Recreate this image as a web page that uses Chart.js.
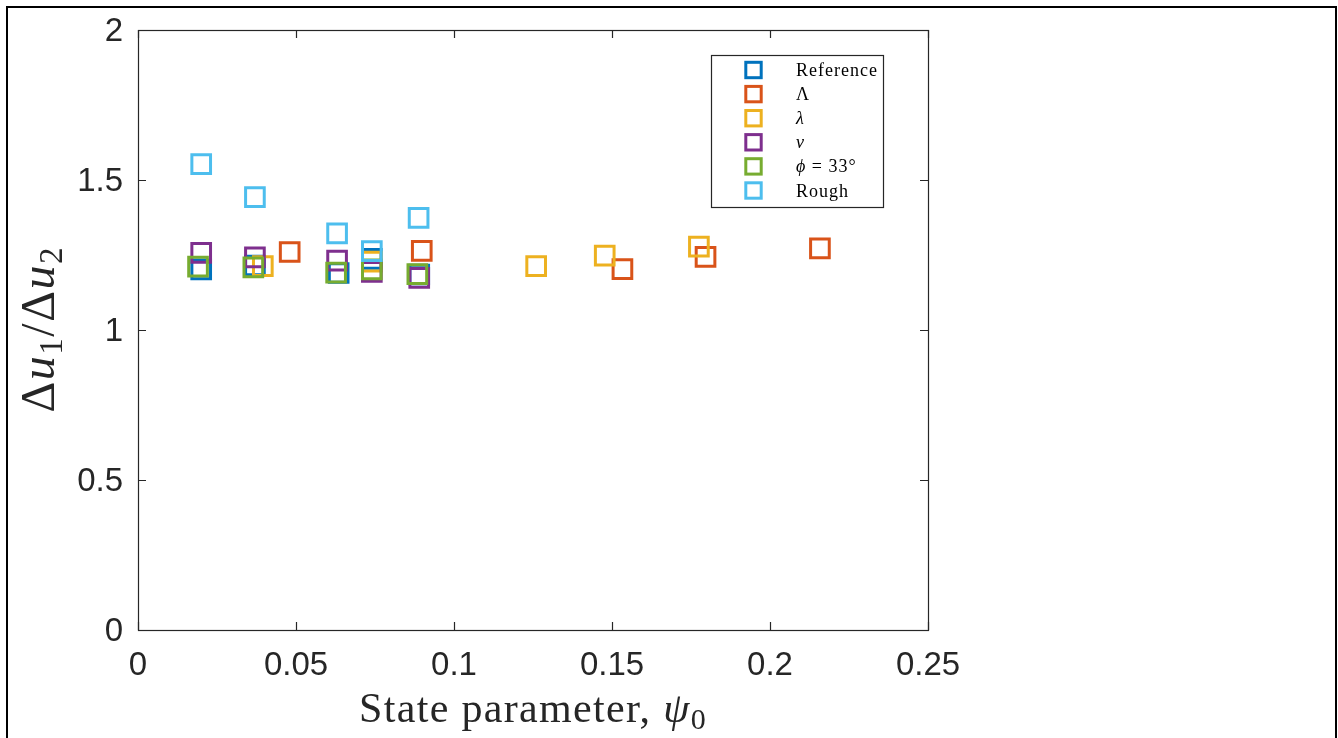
<!DOCTYPE html>
<html>
<head>
<meta charset="utf-8">
<script src="https://cdn.jsdelivr.net/npm/chart.js@4/dist/chart.umd.min.js"></script>
<style>
html,body{margin:0;padding:0;background:#ffffff;}
#wrap{width:1338px;height:738px;position:relative;}
canvas{display:block;}
</style>
</head>
<body>
<div id="wrap"><canvas id="c" width="1338" height="738"></canvas></div>
<script>
// ---- data ----
const seriesNames  = ['Reference', 'Λ', 'λ', 'ν', 'ϕ = 33°', 'Rough'];
const seriesColors = ['#0072BD', '#D95319', '#EDB120', '#7E2F8E', '#77AC30', '#4DBEEE'];

const referenceX = [0.020, 0.037, 0.0635, 0.074, 0.089];
const referenceY = [1.202, 1.215, 1.190, 1.237, 1.185];

const lambdaUpperX = [0.048, 0.0898, 0.1533, 0.1796, 0.2158];
const lambdaUpperY = [1.260, 1.264, 1.203, 1.244, 1.272];

const lambdaLowerX = [0.0395, 0.074, 0.126, 0.1477, 0.1775];
const lambdaLowerY = [1.213, 1.228, 1.213, 1.248, 1.278];

const nuX = [0.020, 0.037, 0.063, 0.074, 0.089];
const nuY = [1.257, 1.242, 1.231, 1.194, 1.174];

const phiX = [0.019, 0.0365, 0.0627, 0.074, 0.0884];
const phiY = [1.211, 1.209, 1.191, 1.202, 1.186];

const roughX = [0.020, 0.037, 0.063, 0.074, 0.0888];
const roughY = [1.553, 1.443, 1.322, 1.263, 1.374];

const xTickLabels = ['0', '0.05', '0.1', '0.15', '0.2', '0.25'];
const yTickLabels = ['0', '0.5', '1', '1.5', '2'];

const xTitleText = 'State parameter, ψ0';
const yTitleText = 'Δu1/Δu2';

// ---- build datasets ----
const seriesX = [referenceX, lambdaUpperX, lambdaLowerX, nuX, phiX, roughX];
const seriesY = [referenceY, lambdaUpperY, lambdaLowerY, nuY, phiY, roughY];

const datasets = seriesNames.map((name, i) => ({
  label: name,
  data: seriesX[i].map((x, j) => ({ x: x, y: seriesY[i][j] })),
  showLine: false,
  pointStyle: 'rect',
  pointRadius: 13.2,
  pointHoverRadius: 13.2,
  borderWidth: 3,
  pointBorderWidth: 3,
  borderColor: seriesColors[i],
  backgroundColor: 'rgba(0,0,0,0)',
  order: seriesNames.length - i   // later series drawn on top, like MATLAB
}));

const AXIS_COLOR = '#262626';
const SERIF = '"Liberation Serif", "DejaVu Serif", serif';

// draw a run of text segments [text, font, dy] starting at (0,0) baseline
function drawRuns(ctx, runs, spacing) {
  let x = 0;
  runs.forEach(r => {
    ctx.font = r[1];
    ctx.fillText(r[0], x, r[2]);
    x += ctx.measureText(r[0]).width + spacing;
  });
  return x;
}
function runsWidth(ctx, runs, spacing) {
  let w = 0;
  runs.forEach(r => { ctx.font = r[1]; w += ctx.measureText(r[0]).width + spacing; });
  return w - spacing;
}

// box, inner ticks, titles, legend and outer frame
const decorations = {
  id: 'decorations',
  beforeDraw(chart) {
    const ctx = chart.ctx;
    ctx.save();
    ctx.fillStyle = '#ffffff';
    ctx.fillRect(0, 0, chart.width, chart.height);
    ctx.restore();
  },
  afterDraw(chart) {
    const ctx = chart.ctx;
    const a = chart.chartArea;
    const xs = chart.scales.x, ys = chart.scales.y;
    ctx.save();
    // axes box
    ctx.strokeStyle = AXIS_COLOR;
    ctx.lineWidth = 1.2;
    ctx.strokeRect(Math.round(a.left) + 0.5, Math.round(a.top) + 0.5,
                   Math.round(a.right - a.left), Math.round(a.bottom - a.top));
    // inner tick marks on all four sides
    const tl = 8;
    ctx.beginPath();
    xs.ticks.forEach(t => {
      const px = Math.round(xs.getPixelForValue(t.value)) + 0.5;
      ctx.moveTo(px, a.bottom); ctx.lineTo(px, a.bottom - tl);
      ctx.moveTo(px, a.top); ctx.lineTo(px, a.top + tl);
    });
    ys.ticks.forEach(t => {
      const py = Math.round(ys.getPixelForValue(t.value)) + 0.5;
      ctx.moveTo(a.left, py); ctx.lineTo(a.left + tl, py);
      ctx.moveTo(a.right, py); ctx.lineTo(a.right - tl, py);
    });
    ctx.stroke();

    ctx.fillStyle = AXIS_COLOR;
    ctx.textAlign = 'left';
    ctx.textBaseline = 'alphabetic';

    // x axis title: "State parameter, ψ0" (ψ italic, 0 subscript)
    const xRuns = [
      [xTitleText.slice(0, -2), '42px ' + SERIF, 0],
      [xTitleText.slice(-2, -1), 'italic 42px ' + SERIF, 0],
      [xTitleText.slice(-1), '30px ' + SERIF, 7]
    ];
    const xTarget = 348;
    const natural = runsWidth(ctx, xRuns, 0);
    const nChars = xTitleText.length;
    const ls = Math.max(0, (xTarget - natural) / nChars);
    ctx.save();
    ctx.letterSpacing = ls.toFixed(2) + 'px';
    const xw = runsWidth(ctx, xRuns, 0);
    ctx.translate((a.left + a.right) / 2 - xw / 2, 722);
    drawRuns(ctx, xRuns, 0);
    ctx.restore();

    // y axis title: "Δu1/Δu2" rotated
    const yRuns = [
      ['Δ', '48px ' + SERIF, 0],
      ['u', 'italic 48px ' + SERIF, 0],
      ['1', '33px ' + SERIF, 8],
      ['/', '48px ' + SERIF, 0],
      ['Δ', '48px ' + SERIF, 0],
      ['u', 'italic 48px ' + SERIF, 0],
      ['2', '33px ' + SERIF, 8]
    ];
    const yw = runsWidth(ctx, yRuns, 1.5);
    ctx.save();
    ctx.translate(54, (a.top + a.bottom) / 2 + yw / 2);
    ctx.rotate(-Math.PI / 2);
    drawRuns(ctx, yRuns, 1.5);
    ctx.restore();

    // legend box
    const lx = a.left + 573, ly = a.top + 25, lw = 172, lh = 152;
    ctx.fillStyle = '#ffffff';
    ctx.fillRect(lx, ly, lw, lh);
    ctx.strokeStyle = AXIS_COLOR;
    ctx.lineWidth = 1.2;
    ctx.strokeRect(lx + 0.5, ly + 0.5, lw, lh);
    const rowH = 24.1;
    chart.data.datasets.forEach((ds, i) => {
      const cy = ly + 15 + rowH * i;
      const cx = lx + 42.5;
      ctx.strokeStyle = ds.borderColor;
      ctx.lineWidth = 3;
      ctx.strokeRect(cx - 7.7, cy - 7.7, 15.4, 15.4);
      ctx.fillStyle = '#000000';
      const tx = lx + 85, ty = cy + 6;
      const name = ds.label;
      ctx.save();
      ctx.translate(tx, ty);
      ctx.letterSpacing = '1px';
      if (name === 'λ' || name === 'ν') {
        drawRuns(ctx, [[name, 'italic 18px ' + SERIF, 0]], 0);
      } else if (name.charAt(0) === 'ϕ') {
        drawRuns(ctx, [['ϕ', 'italic 18px ' + SERIF, 0], [name.slice(1), '18px ' + SERIF, 0]], 0);
      } else {
        drawRuns(ctx, [[name, '18px ' + SERIF, 0]], 0);
      }
      ctx.restore();
    });

    // outer frame of the figure
    ctx.strokeStyle = '#000000';
    ctx.lineWidth = 2;
    ctx.beginPath();
    ctx.moveTo(7, chart.height);
    ctx.lineTo(7, 7);
    ctx.lineTo(1336, 7);
    ctx.lineTo(1336, chart.height);
    ctx.stroke();
    ctx.restore();
  }
};

new Chart(document.getElementById('c'), {
  type: 'scatter',
  data: { datasets: datasets },
  options: {
    responsive: false,
    animation: false,
    devicePixelRatio: 1,
    layout: { padding: { left: 0, top: 30, right: 410, bottom: 0 } },
    plugins: { legend: { display: false }, tooltip: { enabled: false } },
    scales: {
      x: {
        type: 'linear',
        position: 'bottom',
        min: 0, max: 0.25,
        grid: { display: false, drawTicks: false },
        border: { display: false },
        ticks: {
          stepSize: 0.05,
          autoSkip: false,
          maxRotation: 0,
          padding: 16,
          color: AXIS_COLOR,
          font: { family: '"Liberation Sans", Arial, sans-serif', size: 33 },
          callback: (v, i) => xTickLabels[i]
        },
        title: { display: false, text: xTitleText },
        afterFit: s => { s.height = 108; s.paddingLeft = 0; s.paddingRight = 0; }
      },
      y: {
        type: 'linear',
        position: 'left',
        min: 0, max: 2,
        grid: { display: false, drawTicks: false },
        border: { display: false },
        ticks: {
          stepSize: 0.5,
          autoSkip: false,
          padding: 15,
          labelOffset: 2,
          color: AXIS_COLOR,
          font: { family: '"Liberation Sans", Arial, sans-serif', size: 33 },
          callback: (v, i) => yTickLabels[i]
        },
        title: { display: false, text: yTitleText },
        afterFit: s => { s.width = 138; s.paddingTop = 0; s.paddingBottom = 0; }
      }
    }
  },
  plugins: [decorations]
});
</script>
</body>
</html>
